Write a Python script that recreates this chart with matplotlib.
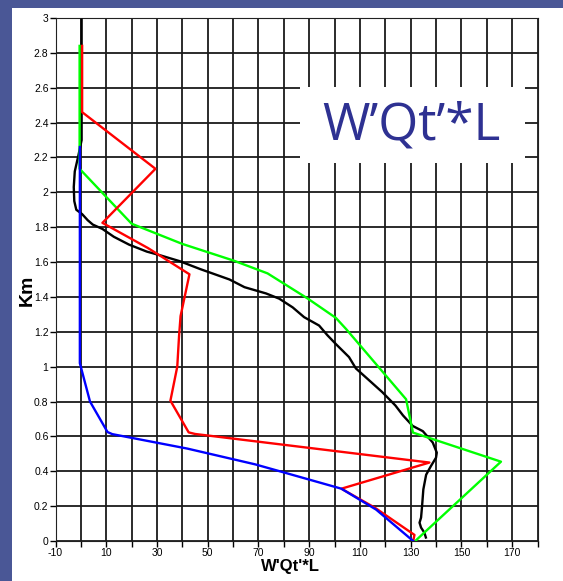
import numpy as np
import matplotlib.pyplot as plt
from matplotlib.patches import Rectangle

# profiles (x = W'Qt'*L, y = Km)
black_x = [0.3, 0.3, -1.0, -2.4, -2.8, -2.6, -1.8, 0.5, 2.7, 4.7, 8.5, 13, 19, 26, 31, 39, 47,
           58.6, 64.5, 73, 78.2, 83.5, 88, 93.9, 97.2, 100.5, 105.7, 108.4, 113, 118.8, 124,
           127, 130.8, 134.8, 138.7, 140.3, 140, 138, 136.1, 135, 134.5, 134.1, 133.5, 134.1,
           135.4, 136]
black_y = [2.99, 2.30, 2.21, 2.12, 2.03, 1.95, 1.90, 1.875, 1.84, 1.815, 1.79, 1.745, 1.70,
           1.66, 1.64, 1.605, 1.56, 1.50, 1.456, 1.42, 1.39, 1.34, 1.284, 1.236, 1.18, 1.13,
           1.055, 0.99, 0.93, 0.854, 0.777, 0.72, 0.66, 0.63, 0.565, 0.507, 0.478, 0.43, 0.38,
           0.296, 0.2, 0.134, 0.105, 0.077, 0.048, 0.02]

red_x = [0.5, 0.5, 29.4, 8.5, 26.5, 42.8, 39.3, 38.7, 38, 35.3, 42.5, 45, 137.4, 102.7, 116,
         131.5, 131]
red_y = [2.84, 2.46, 2.135, 1.825, 1.68, 1.53, 1.29, 1.175, 1.0, 0.805, 0.623, 0.614, 0.45,
         0.30, 0.19, 0.035, 0.0]

green_x = [-0.5, -0.5, 20, 40, 60.3, 73.6, 89.5, 100.5, 104.6, 128.2, 130.9, 165.6, 131.8]
green_y = [2.84, 2.135, 1.82, 1.704, 1.608, 1.535, 1.39, 1.28, 1.215, 0.813, 0.622, 0.455, 0.0]

blue_x = [-0.4, -0.4, 3.6, 10.5, 12.4, 42, 68.6, 78.4, 102.7, 116.4, 131]
blue_y = [2.26, 1.02, 0.80, 0.625, 0.613, 0.53, 0.44, 0.40, 0.30, 0.18, 0.0]

xticks = np.arange(-10, 181, 10)
xticklabels = [str(v) if v % 20 == 10 else '' for v in xticks]
yticks = np.round(np.arange(0, 3.01, 0.2), 1)
yticklabels = ['%g' % v for v in yticks]

fig = plt.figure(figsize=(5.63, 5.81), dpi=100, facecolor='#4a5796')
# white slide area
fig.patches.append(Rectangle((12 / 563, 0), 1, 1 - 8 / 581, transform=fig.transFigure,
                             facecolor='white', edgecolor='none', zorder=-5))

ax = fig.add_axes([55.5 / 563, 1 - 541 / 581, 482 / 563, 523 / 581])
ax.set_zorder(2)
ax.plot(black_x, black_y, color='black', lw=1.7, zorder=3)
ax.plot(green_x, green_y, color='#00ff00', lw=1.7, zorder=3)
ax.plot(red_x, red_y, color='#ff0000', lw=1.7, zorder=3)
ax.plot(blue_x, blue_y, color='#0000ff', lw=1.7, zorder=3)

ax.set_xlim(-10, 180)
ax.set_ylim(0, 3)
ax.set_xticks(xticks)
ax.set_xticklabels(xticklabels, fontsize=7.5, family='Liberation Sans')
ax.set_yticks(yticks)
ax.set_yticklabels(yticklabels, fontsize=7.5, family='Liberation Sans')
ax.tick_params(length=4, width=1, pad=1)
ax.grid(True, color='#1a1a1a', lw=1.3)
ax.set_axisbelow(True)
for s in ax.spines.values():
    s.set_color('#222222')

# title box over the grid
ax.add_patch(Rectangle((86.4, 2.17), 88.7, 0.435, facecolor='white', edgecolor='none', zorder=2))
ax.text(130.3, 2.38, 'W\u2019Qt\u2019*L', color='#2e3192', fontsize=37, family='Open Sans',
        ha='center', va='center', zorder=4)

fig.text(27 / 563, 1 - 290 / 581, 'Km', rotation=90, fontsize=14, fontweight='bold',
         family='Liberation Sans', ha='center', va='center')
fig.text(290 / 563, 1 - 566 / 581, "W'Qt'*L", fontsize=12, fontweight='bold',
         family='Liberation Sans', ha='center', va='center')

fig.savefig('out.png', dpi=100, facecolor=fig.get_facecolor())
